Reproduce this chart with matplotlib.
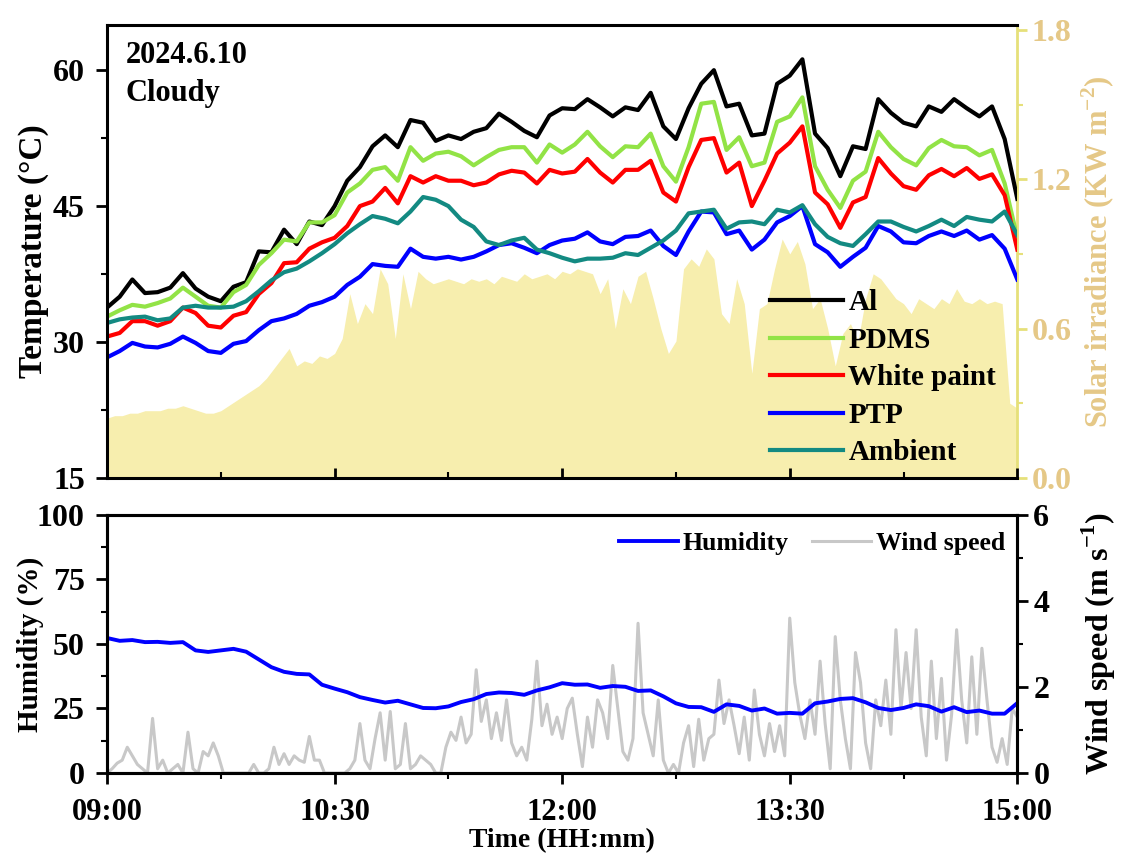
import numpy as np
import matplotlib
matplotlib.use("Agg")
import matplotlib.pyplot as plt

plt.rcParams['font.family'] = ['Liberation Serif', 'DejaVu Serif']
plt.rcParams['font.weight'] = 'bold'
plt.rcParams['axes.labelweight'] = 'bold'
plt.rcParams['mathtext.fontset'] = 'custom'
plt.rcParams['mathtext.rm'] = 'Liberation Serif:bold'

# sample times, minutes after 09:00
t5 = np.arange(0, 361, 5)      # temperatures, humidity
t3 = np.arange(0, 361, 3)      # solar irradiance
t2 = np.arange(0, 361, 2)      # wind speed

al = [33.8, 35.0, 36.9, 35.4, 35.5, 36.0, 37.6, 35.9, 35.0, 34.5, 36.1, 36.6, 40.0, 39.9, 42.4,
      40.8, 43.3, 42.9, 45.0, 47.8, 49.3, 51.6, 52.8, 51.5, 54.5, 54.2, 52.2, 52.8, 52.4, 53.2,
      53.6, 55.2, 54.3, 53.3, 52.6, 55.0, 55.8, 55.7, 56.8, 55.9, 54.9, 55.9, 55.6, 57.5, 53.8,
      52.4, 55.8, 58.5, 60.0, 56.0, 56.3, 52.8, 53.0, 58.5, 59.4, 61.2, 53.0, 51.4, 48.3, 51.6,
      51.3, 56.8, 55.3, 54.2, 53.8, 56.0, 55.4, 56.8, 55.8, 54.9, 56.0, 52.4, 45.8]
pdms = [32.8, 33.5, 34.1, 33.9, 34.3, 34.8, 36.0, 35.0, 34.0, 33.8, 35.5, 36.3, 38.5, 39.8, 41.3,
        41.1, 43.2, 43.2, 44.0, 46.5, 47.5, 49.0, 49.3, 47.8, 51.5, 50.0, 50.8, 51.0, 50.5, 49.5,
        50.4, 51.2, 51.5, 51.5, 49.8, 51.8, 50.9, 51.8, 53.2, 51.6, 50.4, 51.6, 51.5, 53.0, 49.4,
        47.7, 51.5, 56.3, 56.5, 51.2, 52.6, 49.4, 49.8, 54.3, 54.9, 57.0, 49.4, 46.8, 44.8, 47.8,
        48.8, 53.2, 51.5, 50.2, 49.5, 51.4, 52.3, 51.6, 51.5, 50.6, 51.2, 47.5, 41.5]
white_paint = [30.6, 31.0, 32.3, 32.3, 31.8, 32.3, 33.8, 33.2, 31.8, 31.6, 32.9, 33.3, 35.3, 36.5, 38.7,
               38.8, 40.3, 41.0, 41.5, 42.8, 45.0, 45.5, 47.0, 45.3, 48.3, 47.6, 48.3, 47.8, 47.8, 47.3,
               47.6, 48.5, 48.9, 48.7, 47.5, 49.0, 48.6, 48.8, 50.2, 48.7, 47.6, 49.0, 49.0, 50.0, 46.5,
               45.5, 49.3, 52.3, 52.5, 48.7, 49.8, 45.0, 47.8, 50.8, 52.0, 53.8, 46.5, 45.2, 42.6, 45.4,
               46.0, 50.3, 48.6, 47.2, 46.8, 48.4, 49.1, 48.3, 49.2, 48.0, 48.5, 46.2, 40.2]
ptp = [28.3, 29.0, 29.9, 29.5, 29.4, 29.8, 30.6, 29.9, 29.0, 28.8, 29.8, 30.1, 31.3, 32.3, 32.6,
       33.1, 34.0, 34.4, 35.0, 36.3, 37.2, 38.6, 38.4, 38.3, 40.3, 39.4, 39.2, 39.4, 39.1, 39.4,
       40.0, 40.7, 40.9, 40.4, 39.8, 40.7, 41.2, 41.4, 42.1, 41.1, 40.8, 41.6, 41.7, 42.3, 40.6,
       39.6, 42.2, 44.4, 44.3, 41.9, 42.3, 40.2, 41.3, 43.2, 43.9, 45.0, 40.8, 39.9, 38.3, 39.4,
       40.4, 42.8, 42.2, 41.0, 40.9, 41.7, 42.2, 41.7, 42.3, 41.3, 41.8, 40.3, 36.9]
ambient = [32.1, 32.5, 32.7, 32.8, 32.4, 32.6, 33.8, 34.0, 33.8, 33.8, 33.9, 34.5, 35.6, 36.8, 37.7,
           38.1, 38.9, 39.8, 40.8, 42.0, 43.0, 43.9, 43.6, 43.1, 44.4, 46.0, 45.7, 45.0, 43.5, 42.7,
           41.1, 40.7, 41.2, 41.5, 40.2, 39.8, 39.3, 38.9, 39.2, 39.2, 39.3, 39.8, 39.6, 40.4, 41.2,
           42.3, 44.2, 44.4, 44.6, 42.5, 43.2, 43.3, 43.0, 44.6, 44.3, 45.1, 43.0, 41.6, 40.9, 40.6,
           41.9, 43.3, 43.3, 42.7, 42.2, 42.8, 43.5, 42.8, 43.8, 43.5, 43.3, 44.4, 41.8]

solar = [0.24, 0.25, 0.25, 0.26, 0.26, 0.27, 0.27, 0.27, 0.28, 0.28, 0.29, 0.28, 0.27, 0.26, 0.26,
         0.27, 0.29, 0.31, 0.33, 0.35, 0.37, 0.40, 0.44, 0.48, 0.52, 0.45, 0.47, 0.46, 0.49, 0.48,
         0.50, 0.56, 0.74, 0.62, 0.70, 0.66, 0.84, 0.78, 0.56, 0.82, 0.68, 0.83, 0.80, 0.78, 0.79,
         0.80, 0.79, 0.78, 0.80, 0.79, 0.80, 0.78, 0.81, 0.80, 0.79, 0.82, 0.80, 0.81, 0.82, 0.80,
         0.83, 0.82, 0.84, 0.83, 0.82, 0.74, 0.80, 0.60, 0.76, 0.70, 0.81, 0.83, 0.72, 0.60, 0.50,
         0.55, 0.84, 0.88, 0.85, 0.92, 0.88, 0.66, 0.62, 0.80, 0.70, 0.42, 0.68, 0.70, 0.84, 0.96,
         0.90, 0.95, 0.86, 0.68, 0.72, 0.60, 0.45, 0.58, 0.62, 0.55, 0.72, 0.82, 0.80, 0.76, 0.72,
         0.70, 0.66, 0.72, 0.70, 0.68, 0.72, 0.70, 0.76, 0.71, 0.70, 0.72, 0.70, 0.71, 0.70, 0.30,
         0.28]

humidity = [52.3, 51.2, 51.5, 50.7, 50.8, 50.4, 50.7, 47.5, 46.9, 47.5, 48.1, 47.0, 44.0, 41.0, 39.2,
            38.4, 38.2, 34.2, 32.7, 31.3, 29.4, 28.3, 27.3, 28.0, 26.6, 25.2, 25.1, 25.8, 27.5, 28.6,
            30.6, 31.2, 31.0, 30.3, 32.0, 33.2, 34.8, 34.2, 34.3, 33.0, 33.7, 33.4, 31.8, 32.0, 29.7,
            27.0, 25.6, 25.5, 23.7, 26.6, 26.0, 24.2, 25.0, 23.0, 23.3, 23.0, 27.0, 27.7, 28.7, 29.0,
            27.4, 25.2, 24.4, 25.2, 26.6, 25.9, 23.8, 25.5, 23.6, 24.2, 23.0, 23.0, 27.1]

wind = [0.0, 0.1, 0.23, 0.3, 0.6, 0.4, 0.2, 0.1, 0.0, 1.27, 0.1, 0.3, 0.0, 0.1, 0.2,
        0.0, 0.95, 0.1, 0.0, 0.5, 0.4, 0.7, 0.4, 0.0, 0.0, 0.0, 0.0, 0.0, 0.0, 0.2,
        0.0, 0.0, 0.1, 0.6, 0.2, 0.45, 0.2, 0.4, 0.3, 0.25, 0.85, 0.3, 0.3, 0.0, 0.0,
        0.0, 0.0, 0.0, 0.1, 0.3, 1.15, 0.3, 0.1, 0.8, 1.4, 0.3, 1.43, 0.1, 0.2, 1.15,
        0.1, 0.2, 0.4, 0.3, 0.2, 0.0, 0.0, 0.6, 0.95, 0.76, 1.3, 0.7, 0.9, 2.4, 1.2,
        1.7, 0.8, 1.4, 0.76, 1.7, 0.7, 0.4, 0.6, 0.3, 1.25, 2.6, 1.1, 1.6, 0.9, 1.3,
        0.8, 1.5, 1.74, 0.9, 0.15, 1.3, 0.6, 1.7, 1.4, 0.8, 2.5, 1.5, 0.5, 0.3, 0.8,
        3.48, 1.4, 0.9, 0.4, 1.7, 0.3, 0.0, 0.2, 0.0, 0.7, 1.1, 0.15, 1.25, 0.3, 0.8,
        0.9, 2.16, 1.15, 1.7, 1.1, 0.45, 1.3, 0.3, 1.93, 0.9, 0.4, 1.15, 0.5, 1.1, 0.4,
        3.6, 2.1, 1.35, 0.8, 1.7, 0.9, 2.6, 1.15, 0.1, 3.17, 1.7, 0.8, 0.1, 2.8, 2.1,
        0.7, 0.1, 1.7, 1.1, 2.16, 0.9, 3.33, 1.5, 2.8, 1.5, 3.33, 1.3, 0.4, 2.6, 0.8,
        2.2, 0.3, 1.35, 3.33, 1.7, 0.7, 2.7, 0.9, 2.9, 1.7, 0.6, 0.25, 0.8, 0.2, 1.5,
        1.3]

time_ticks = [0, 90, 180, 270, 360]
time_labels = ['09:00', '10:30', '12:00', '13:30', '15:00']

names = ['Al', 'PDMS', 'White paint', 'PTP', 'Ambient']
series = [al, pdms, white_paint, ptp, ambient]
colors = ['#000000', '#92E346', '#FF0000', '#0000FF', '#138A82']

sun_face = '#F7EEAE'
sun_edge = '#E6E07A'
sun_text = '#E5C887'

fig = plt.figure(figsize=(11.21, 8.58), dpi=100)

# ---- top panel: temperatures + solar irradiance
ax1 = fig.add_axes([0.0955, 0.443, 0.812, 0.528])
ax2 = ax1.twinx()
ax2.fill_between(t3, solar, 0, color=sun_face, linewidth=0)
ax2.set_ylim(0, 1.82)
ax2.set_yticks([0, 0.6, 1.2, 1.8])
ax2.set_yticks([0.3, 0.9, 1.5], minor=True)
ax2.set_yticklabels(['0.0', '0.6', '1.2', '1.8'])
ax2.tick_params(axis='y', which='major', direction='out', length=7, width=2,
                colors=sun_edge, labelcolor=sun_text, labelsize=23)
ax2.tick_params(axis='y', which='minor', direction='out', length=4, width=1.5, colors=sun_edge)
ax2.set_ylabel(r'Solar irradiance (KW m$^{\mathregular{-2}}$)', fontsize=22, color=sun_text,
               labelpad=6)
for s in ['left', 'top', 'bottom']:
    ax2.spines[s].set_visible(False)
ax2.spines['right'].set_color(sun_edge)
ax2.spines['right'].set_linewidth(2)

ax1.set_zorder(ax2.get_zorder() + 1)
ax1.patch.set_visible(False)
for name, vals, c in zip(names, series, colors):
    ax1.plot(t5, vals, color=c, lw=3, label=name)
ax1.set_xlim(0, 360)
ax1.set_ylim(15, 65)
ax1.set_yticks([15, 30, 45, 60])
ax1.set_yticks([22.5, 37.5, 52.5], minor=True)
ax1.set_xticks(time_ticks)
ax1.set_xticks([45, 135, 225, 315], minor=True)
ax1.set_xticklabels([])
ax1.tick_params(axis='y', which='major', direction='out', length=8, width=2, labelsize=23, pad=8)
ax1.tick_params(axis='y', which='minor', direction='out', length=4, width=1.5)
ax1.tick_params(axis='x', which='major', direction='in', length=7, width=2)
ax1.tick_params(axis='x', which='minor', direction='in', length=4, width=1.5)
ax1.set_ylabel('Temperature (\u00b0C)', fontsize=24, labelpad=3)
ax1.spines['right'].set_visible(False)
for s in ['left', 'top', 'bottom']:
    ax1.spines[s].set_linewidth(2.2)
ax1.text(0.02, 0.965, '2024.6.10\nCloudy', transform=ax1.transAxes, ha='left', va='top',
         fontsize=22, linespacing=1.4)
ax1.legend(loc='upper left', bbox_to_anchor=(0.728, 0.416), frameon=False, fontsize=21,
           handlelength=2.5, handletextpad=0.2, labelspacing=0.36, borderpad=0, borderaxespad=0)

# ---- bottom panel: humidity + wind speed
ax3 = fig.add_axes([0.0955, 0.099, 0.812, 0.301])
ax4 = ax3.twinx()
l_wind, = ax4.plot(t2, wind, color='#C8C8C8', lw=2.2, label='Wind speed')
ax4.set_ylim(0, 6)
ax4.set_yticks([0, 2, 4, 6])
ax4.set_yticks([1, 3, 5], minor=True)
ax4.tick_params(axis='y', which='major', direction='out', length=8, width=2, labelsize=23)
ax4.tick_params(axis='y', which='minor', direction='out', length=4, width=1.5)
ax4.set_ylabel(r'Wind speed (m s$^{\mathregular{-1}}$)', fontsize=23, labelpad=22)

ax3.set_zorder(ax4.get_zorder() + 1)
ax3.patch.set_visible(False)
l_hum, = ax3.plot(t5, humidity, color='#0000FF', lw=2.8, label='Humidity')
ax3.set_xlim(0, 360)
ax3.set_ylim(0, 100)
ax3.set_yticks([0, 25, 50, 75, 100])
ax3.set_yticks([12.5, 37.5, 62.5, 87.5], minor=True)
ax3.set_xticks(time_ticks)
ax3.set_xticks([45, 135, 225, 315], minor=True)
ax3.set_xticklabels(time_labels)
ax3.tick_params(axis='x', which='major', direction='out', length=8, width=2, labelsize=22, pad=10)
ax3.tick_params(axis='y', which='major', direction='out', length=8, width=2, labelsize=23, pad=8)
ax3.tick_params(axis='both', which='minor', direction='out', length=4, width=1.5)
ax3.set_ylabel('Humidity (%)', fontsize=21, labelpad=-5)
ax3.set_xlabel('Time (HH:mm)', fontsize=20, labelpad=1)
for ax in (ax3, ax4):
    for s in ax.spines.values():
        s.set_linewidth(2.2)
ax3.legend([l_hum, l_wind], ['Humidity', 'Wind speed'], loc='upper left',
           bbox_to_anchor=(0.562, 0.935), ncol=2, frameon=False, fontsize=18.5,
           handlelength=2.3, handletextpad=0.2, columnspacing=0.9, borderpad=0, borderaxespad=0)

fig.savefig('out.png', dpi=100)
